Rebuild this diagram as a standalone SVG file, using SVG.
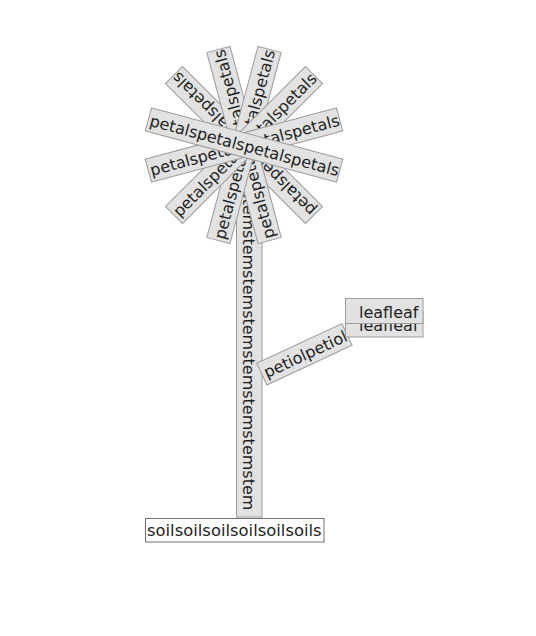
<svg xmlns="http://www.w3.org/2000/svg" width="536" height="636" viewBox="0 0 536 636">
<defs>
<style>
text{font-family:"DejaVu Sans",Verdana,sans-serif;font-size:16px;fill:#1e1e1e}
.box{fill:#e2e2e2;stroke:#9c9c9c;stroke-width:1}
.soil{fill:#fff;stroke:#707070;stroke-width:1}
</style>
<clipPath id="soilclip"><rect x="145" y="518" width="179" height="24"/></clipPath>
<clipPath id="leafclip"><rect x="345" y="324" width="79" height="14"/></clipPath>
</defs>
<rect width="536" height="636" fill="#fff"/>
<g id="stem">
<rect class="box" x="236.5" y="145" width="25.5" height="372"/>
<text transform="translate(249,0) rotate(90)" x="150" y="6">stemstemstemstemstemstemstemstemstem</text>
</g>
<g id="soil">
<rect class="soil" x="145.5" y="518.5" width="178.5" height="23.5"/>
<text clip-path="url(#soilclip)" x="147" y="536" style="font-size:16.4px">soilsoilsoilsoilsoilsoils</text>
</g>
<g id="petals">
<g id="petal1" transform="translate(244,145) rotate(-135)"><rect class="box" x="-99" y="-12" width="198" height="24"/><text x="-97" y="6">petalspetalspetalspetals</text></g>
<g id="petal2" transform="translate(244,145) rotate(-105)"><rect class="box" x="-99" y="-12" width="198" height="24"/><text x="-97" y="6">petalspetalspetalspetals</text></g>
<g id="petal3" transform="translate(244,145) rotate(-75)"><rect class="box" x="-99" y="-12" width="198" height="24"/><text x="-97" y="6">petalspetalspetalspetals</text></g>
<g id="petal4" transform="translate(244,145) rotate(-45)"><rect class="box" x="-99" y="-12" width="198" height="24"/><text x="-97" y="6">petalspetalspetalspetals</text></g>
<g id="petal5" transform="translate(244,145) rotate(-15)"><rect class="box" x="-99" y="-12" width="198" height="24"/><text x="-97" y="6">petalspetalspetalspetals</text></g>
<g id="petal6" transform="translate(244,145) rotate(15)"><rect class="box" x="-99" y="-12" width="198" height="24"/><text x="-97" y="6">petalspetalspetalspetals</text></g>
</g>
<g id="petiole" transform="translate(304.4,354.3) rotate(-25)">
<rect class="box" x="-47" y="-12" width="94" height="24"/>
<text x="-44" y="6">petiolpetiol</text>
</g>
<g id="leaf-back">
<rect class="box" x="345.5" y="312" width="77.5" height="25"/>
<text clip-path="url(#leafclip)" x="359" y="331">leafleaf</text>
</g>
<g id="leaf">
<rect class="box" x="345.5" y="298.5" width="77.5" height="25"/>
<text x="359" y="318">leafleaf</text>
</g>
<g id="connectors"></g>
</svg>
